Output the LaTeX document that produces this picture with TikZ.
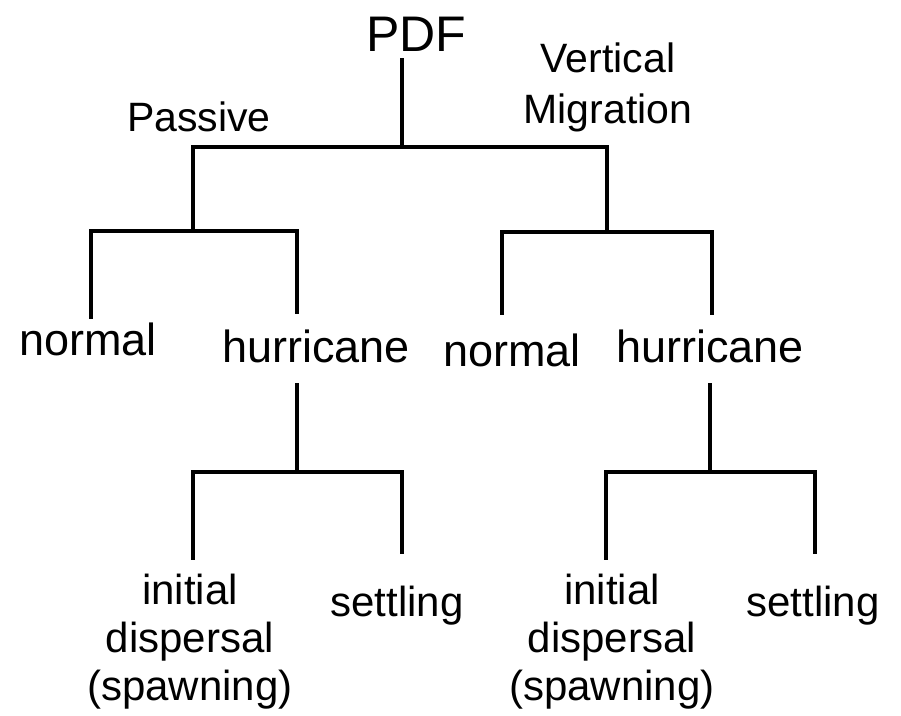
\documentclass[tikz,border=0pt]{standalone}
\usepackage{fontspec}
\setmainfont{Liberation Sans}
\begin{document}
\begin{tikzpicture}[x=1pt,y=-1pt,
  lbl/.style={anchor=base, inner sep=0pt, font=\fontsize{45}{46}\selectfont},
  small/.style={anchor=base, inner sep=0pt, font=\fontsize{41}{51}\selectfont, align=center},
  leaf/.style={anchor=base, inner sep=0pt, font=\fontsize{42}{48}\selectfont, align=center},
  br/.style={line width=4.6pt, line cap=rect}]
\useasboundingbox[fill=white] (0,0) rectangle (901,715);
% labels (multi-line nodes anchored at the baseline of their last line)
\node[anchor=base, inner sep=0pt, font=\fontsize{50}{52}\selectfont] (pdf) at (416,51) {PDF};
\node[small] (pas) at (199,131) {Passive};
\node[small] (vm) at (608,123) {Vertical\\Migration};
\node[lbl] (n1) at (88,355) {normal};
\node[lbl] (h1) at (316,362) {hurricane};
\node[lbl] (n2) at (512,366) {normal};
\node[lbl] (h2) at (710,362) {hurricane};
\node[leaf] (i1) at (190,700) {initial\\dispersal\\(spawning)};
\node[leaf] (s1) at (397,616) {settling};
\node[leaf] (i2) at (612,700) {initial\\dispersal\\(spawning)};
\node[leaf] (s2) at (813,616) {settling};
% junction coordinates
\coordinate (pdfb) at (402,60);
\coordinate (j0) at (402,147);
\coordinate (j0l) at (193,147);
\coordinate (j0r) at (607,147);
\coordinate (j1l) at (91,231);
\coordinate (j1m) at (193,231);
\coordinate (j1r) at (297,231);
\coordinate (n1t) at (91,317);
\coordinate (h1t) at (297,312);
\coordinate (j2l) at (502,232);
\coordinate (j2m) at (607,232);
\coordinate (j2r) at (712,232);
\coordinate (n2t) at (502,313);
\coordinate (h2t) at (712,313);
\coordinate (h1b) at (297,385);
\coordinate (h2b) at (710,385);
\coordinate (k1l) at (193,472);
\coordinate (k1m) at (297,472);
\coordinate (k1r) at (402,472);
\coordinate (k2l) at (606,472);
\coordinate (k2m) at (710,472);
\coordinate (k2r) at (815,472);
\coordinate (i1t) at (193,558);
\coordinate (s1t) at (402,552);
\coordinate (i2t) at (606,558);
\coordinate (s2t) at (815,552);
% connectors
\draw[br] (pdfb) -- (j0);
\draw[br] (j0l) -- (j0r);
\draw[br] (j0l) -- (j1m);
\draw[br] (j0r) -- (j2m);
\draw[br] (j1l) -- (j1r);
\draw[br] (j1l) -- (n1t);
\draw[br] (j1r) -- (h1t);
\draw[br] (j2l) -- (j2r);
\draw[br] (j2l) -- (n2t);
\draw[br] (j2r) -- (h2t);
\draw[br] (h1b) -- (k1m);
\draw[br] (h2b) -- (k2m);
\draw[br] (k1l) -- (k1r);
\draw[br] (k1l) -- (i1t);
\draw[br] (k1r) -- (s1t);
\draw[br] (k2l) -- (k2r);
\draw[br] (k2l) -- (i2t);
\draw[br] (k2r) -- (s2t);
\end{tikzpicture}
\end{document}
